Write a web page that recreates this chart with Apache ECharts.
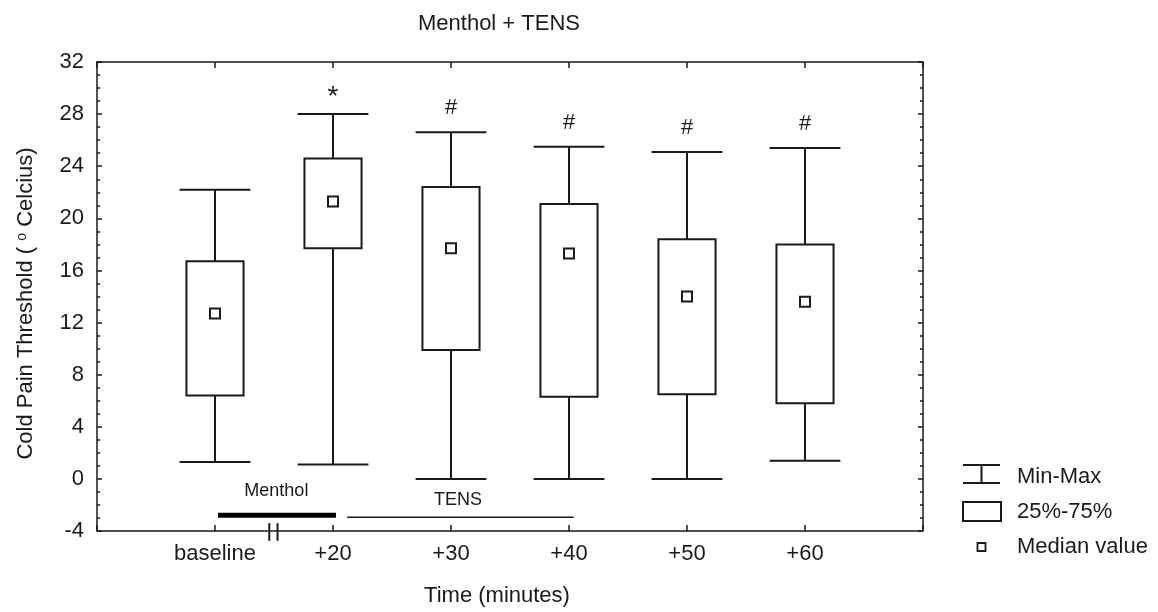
<!DOCTYPE html>
<html>
<head>
<meta charset="utf-8">
<title>Menthol + TENS</title>
<script src="https://cdn.jsdelivr.net/npm/echarts@6/dist/echarts.min.js"></script>
<style>
  html, body { margin: 0; padding: 0; background: #fff; }
  #chart { width: 1158px; height: 612px; }
</style>
</head>
<body>
<div id="chart"></div>
<script>
// categories on the time axis (placed at x = 1..6)
const categories = ['baseline', '+20', '+30', '+40', '+50', '+60']

// box plot statistics (deg C)
const minVals = [1.3, 1.1, 0, 0, 0, 1.4]
const q1Vals = [6.4, 17.7, 9.9, 6.3, 6.5, 5.8]
const medianVals = [12.7, 21.3, 17.7, 17.3, 14.0, 13.6]
const q3Vals = [16.7, 24.6, 22.4, 21.1, 18.4, 18.0]
const maxVals = [22.2, 28.0, 26.6, 25.5, 25.1, 25.4]
const sigMarks = ['', '*', '#', '#', '#', '#']

// treatment period bars under the boxes (x in category units, y in deg C)
const mentholBar = [[1.025, -2.8], [2.025, -2.8]]
const tensBar = [[2.12, -2.95], [4.04, -2.95]]
const axisBreakX = [1.46, 1.53]
const phaseLabels = [['Menthol', 1.52, -0.93], ['TENS', 3.06, -1.62]]

const FONT = 'Liberation Sans, Arial, sans-serif'
const INK = '#1a1a1a'

const boxData = categories.map((c, i) => [
  i + 1, minVals[i], q1Vals[i], medianVals[i], q3Vals[i], maxVals[i], sigMarks[i]
])

// one box: whisker, caps, IQR box, median square, significance mark
const renderBox = (params, api) => {
  const x = api.value(0)
  const pMin = api.coord([x, api.value(1)])
  const pQ1 = api.coord([x, api.value(2)])
  const pMed = api.coord([x, api.value(3)])
  const pQ3 = api.coord([x, api.value(4)])
  const pMax = api.coord([x, api.value(5)])
  const unit = api.size([1, 0])[0]
  const boxHalf = unit * 0.242
  const capHalf = unit * 0.3
  const cx = pMed[0]
  const lineStyle = { stroke: INK, lineWidth: 2 }
  const mark = boxData[params.dataIndex][6]

  const children = [
    { type: 'line', shape: { x1: cx, y1: pMin[1], x2: cx, y2: pMax[1] }, style: lineStyle },
    { type: 'line', shape: { x1: cx - capHalf, y1: pMin[1], x2: cx + capHalf, y2: pMin[1] }, style: lineStyle },
    { type: 'line', shape: { x1: cx - capHalf, y1: pMax[1], x2: cx + capHalf, y2: pMax[1] }, style: lineStyle },
    {
      type: 'rect',
      shape: { x: cx - boxHalf, y: pQ3[1], width: boxHalf * 2, height: pQ1[1] - pQ3[1] },
      style: { fill: '#fff', stroke: INK, lineWidth: 2 }
    },
    {
      type: 'rect',
      shape: { x: cx - 5, y: pMed[1] - 5, width: 10, height: 10 },
      style: { fill: '#fff', stroke: INK, lineWidth: 2 }
    }
  ]
  if (mark) {
    children.push({
      type: 'text',
      style: {
        text: mark,
        x: cx,
        y: pMax[1] - (mark === '*' ? 17 : 24),
        align: 'center',
        verticalAlign: 'middle',
        font: (mark === '*' ? '28px ' : '22px ') + FONT,
        fill: INK
      }
    })
  }
  return { type: 'group', children }
}

const chart = echarts.init(document.getElementById('chart'))

const tickStyle = { color: INK, width: 1.5 }

chart.setOption({
  backgroundColor: '#fff',
  animation: false,
  textStyle: { fontFamily: FONT, color: INK },
  title: {
    text: 'Menthol + TENS',
    left: 494,
    top: 8,
    textAlign: 'center',
    textStyle: { fontSize: 22, fontWeight: 'normal', color: INK, fontFamily: FONT }
  },
  grid: { left: 97, right: 235, top: 62, bottom: 80, containLabel: false },
  xAxis: [
    {
      type: 'value',
      min: 0,
      max: 7,
      interval: 1,
      name: 'Time (minutes)',
      nameLocation: 'middle',
      nameGap: 54,
      nameTextStyle: { fontSize: 22, color: INK, padding: [0, 26, 0, 0] },
      axisLine: { onZero: false, lineStyle: { color: INK, width: 1.5 } },
      axisTick: { inside: true, length: 6, lineStyle: tickStyle },
      axisLabel: {
        fontSize: 22,
        color: INK,
        margin: 12,
        formatter: (v) => categories[v - 1] || ''
      },
      splitLine: { show: false }
    },
    {
      type: 'value',
      position: 'top',
      min: 0,
      max: 7,
      interval: 1,
      axisLine: { onZero: false, lineStyle: { color: INK, width: 1.5 } },
      axisTick: { inside: true, length: 6, lineStyle: tickStyle },
      axisLabel: { show: false },
      splitLine: { show: false }
    }
  ],
  yAxis: [
    {
      type: 'value',
      min: -4,
      max: 32,
      interval: 4,
      name: 'Cold Pain Threshold ( {sup|o} Celcius)',
      nameLocation: 'middle',
      nameGap: 60,
      nameTextStyle: {
        fontSize: 22,
        color: INK,
        padding: [0, 14, 0, 0],
        rich: { sup: { fontSize: 14, verticalAlign: 'top', color: INK } }
      },
      axisLine: { onZero: false, lineStyle: { color: INK, width: 1.5 } },
      axisTick: { inside: true, length: 5, lineStyle: tickStyle },
      minorTick: { show: true, splitNumber: 4, length: 3, lineStyle: tickStyle },
      axisLabel: { fontSize: 22, color: INK, margin: 13 },
      splitLine: { show: false }
    },
    {
      type: 'value',
      position: 'right',
      min: -4,
      max: 32,
      interval: 4,
      axisLine: { onZero: false, lineStyle: { color: INK, width: 1.5 } },
      axisTick: { inside: true, length: 5, lineStyle: tickStyle },
      minorTick: { show: true, splitNumber: 4, length: 3, lineStyle: tickStyle },
      axisLabel: { show: false },
      splitLine: { show: false }
    }
  ],
  graphic: [
    // legend: Min-Max
    { type: 'line', shape: { x1: 963, y1: 465, x2: 1000, y2: 465 }, style: { stroke: INK, lineWidth: 2 } },
    { type: 'line', shape: { x1: 981.5, y1: 465, x2: 981.5, y2: 483 }, style: { stroke: INK, lineWidth: 2 } },
    { type: 'line', shape: { x1: 963, y1: 483, x2: 1000, y2: 483 }, style: { stroke: INK, lineWidth: 2 } },
    { type: 'text', x: 1017, y: 477, style: { text: 'Min-Max', font: '22px ' + FONT, fill: INK, verticalAlign: 'middle' } },
    // legend: 25%-75%
    { type: 'rect', shape: { x: 963, y: 502, width: 38, height: 19 }, style: { fill: '#fff', stroke: INK, lineWidth: 2 } },
    { type: 'text', x: 1017, y: 512, style: { text: '25%-75%', font: '22px ' + FONT, fill: INK, verticalAlign: 'middle' } },
    // legend: median
    { type: 'rect', shape: { x: 977.5, y: 543, width: 8, height: 8 }, style: { fill: '#fff', stroke: INK, lineWidth: 1.8 } },
    { type: 'text', x: 1017, y: 547, style: { text: 'Median value', font: '22px ' + FONT, fill: INK, verticalAlign: 'middle' } }
  ],
  series: [
    {
      type: 'custom',
      name: 'boxes',
      xAxisIndex: 0,
      yAxisIndex: 0,
      renderItem: renderBox,
      data: boxData,
      encode: { x: 0, y: [1, 2, 3, 4, 5] },
      z: 3
    },
    {
      type: 'line',
      name: 'Menthol',
      data: mentholBar,
      symbol: 'none',
      clip: false,
      lineStyle: { color: '#000', width: 5 },
      z: 4
    },
    {
      type: 'line',
      name: 'TENS',
      data: tensBar,
      symbol: 'none',
      clip: false,
      lineStyle: { color: INK, width: 1.5 },
      z: 4
    },
    ...axisBreakX.map((bx) => ({
      type: 'line',
      data: [[bx, -3.4], [bx, -4.75]],
      symbol: 'none',
      clip: false,
      lineStyle: { color: INK, width: 2 },
      z: 5
    })),
    {
      type: 'scatter',
      name: 'phase labels',
      data: phaseLabels.map((p) => ({ value: [p[1], p[2]], name: p[0] })),
      symbolSize: 0,
      clip: false,
      itemStyle: { opacity: 1, color: INK },
      label: {
        show: true,
        position: 'inside',
        formatter: (p) => p.name,
        fontSize: 18,
        color: INK,
        textBorderWidth: 0,
        fontFamily: FONT
      },
      z: 5
    }
  ]
})
</script>
</body>
</html>
